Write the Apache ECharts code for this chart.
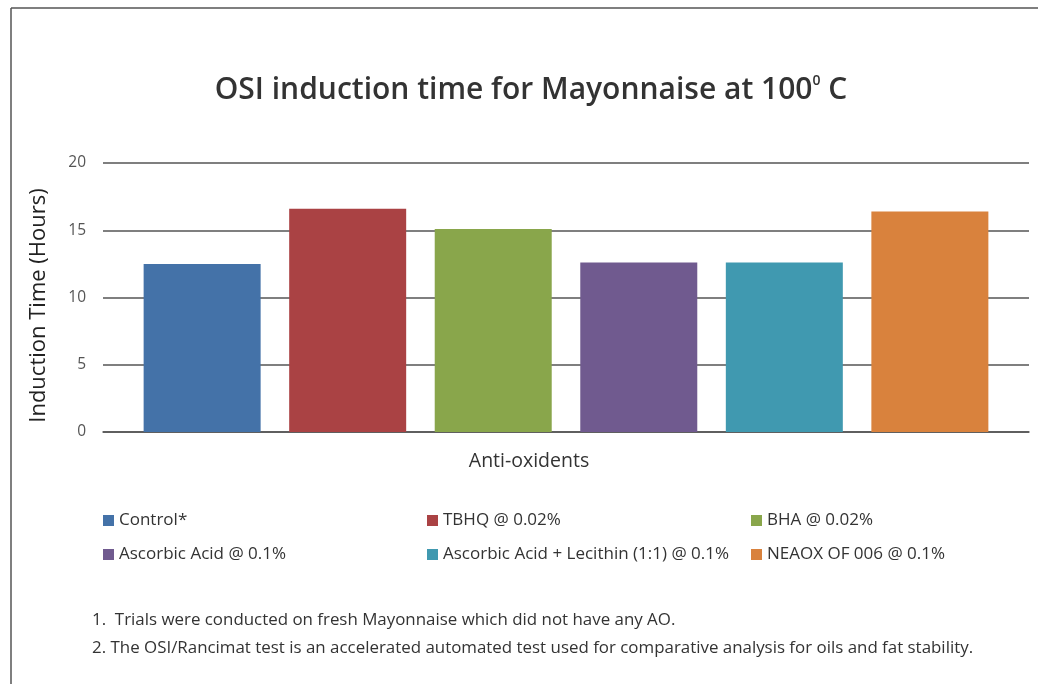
<!DOCTYPE html>
<html>
<head>
<meta charset="utf-8">
<script src="https://cdn.jsdelivr.net/npm/echarts@6/dist/echarts.min.js"></script>
<style>
  html, body { margin: 0; padding: 0; background: #fff; }
  #chart { width: 1038px; height: 684px; }
</style>
</head>
<body>
<div id="chart"></div>
<script>
// 数据
const categories = ['Anti-oxidents'];
const seriesNames = ['Control*', 'TBHQ @ 0.02%', 'BHA @ 0.02%', 'Ascorbic Acid @ 0.1%', 'Ascorbic Acid + Lecithin (1:1) @ 0.1%', 'NEAOX OF 006 @ 0.1%'];
const seriesValues = [12.5, 16.6, 15.1, 12.6, 12.6, 16.4];
const yTicks = [0, 5, 10, 15, 20];
const colors = ['#4472a8', '#aa4244', '#89a64b', '#705a8f', '#4099b0', '#d9823d'];
const notes = [
  '1.  Trials were conducted on fresh Mayonnaise which did not have any AO.',
  '2. The OSI/Rancimat test is an accelerated automated test used for comparative analysis for oils and fat stability.'
];

const font = 'Open Sans';
const myChart = echarts.init(document.getElementById('chart'));

const series = seriesNames.map((name, i) => ({
  name: name,
  type: 'bar',
  data: [seriesValues[i]],
  barWidth: 117,
  barGap: '24.4%',
  itemStyle: { color: colors[i] },
  silent: true,
}));

// 图例分三列
const legendCol = (names, left) => ({
  orient: 'vertical',
  left: left,
  top: 507,
  itemWidth: 11,
  itemHeight: 11,
  itemGap: 17,
  icon: 'rect',
  data: names,
  textStyle: { fontFamily: font, fontSize: 17, color: '#333' },
});

const option = {
  animation: false,
  color: colors,
  title: {
    text: 'OSI induction time for Mayonnaise at 100{sup|0} C',
    left: 526,
    textAlign: 'center',
    top: 69,
    textStyle: {
      fontFamily: font,
      fontSize: 30,
      fontWeight: 600,
      color: '#333',
      rich: {
        sup: { fontFamily: font, fontSize: 14, fontWeight: 600, color: '#333', verticalAlign: 'top', padding: [0, 0, 18, 0] },
      },
    },
  },
  grid: { left: 103, right: 9, top: 163, bottom: 252 },
  xAxis: {
    type: 'category',
    data: categories,
    axisTick: { show: false },
    axisLine: { lineStyle: { color: '#555', width: 1.5 } },
    axisLabel: { fontFamily: font, fontSize: 19.5, color: '#333', margin: 19, padding: [0, 74, 0, 0] },
  },
  yAxis: {
    type: 'value',
    min: yTicks[0],
    max: yTicks[yTicks.length - 1],
    interval: 5,
    name: 'Induction Time (Hours)',
    nameLocation: 'middle',
    nameGap: 53,
    nameTextStyle: { fontFamily: font, fontSize: 22, color: '#222', padding: [0, 16, 0, 0] },
    axisLabel: { fontFamily: font, fontSize: 15.5, color: '#555', margin: 17 },
    splitLine: { lineStyle: { color: '#555', width: 1.5 } },
  },
  legend: [
    legendCol([seriesNames[0], seriesNames[3]], 98),
    legendCol([seriesNames[1], seriesNames[4]], 422),
    legendCol([seriesNames[2], seriesNames[5]], 746),
  ],
  graphic: [
    { type: 'line', shape: { x1: 11, y1: 8, x2: 1038, y2: 8 }, style: { stroke: '#555', lineWidth: 1.5 } },
    { type: 'line', shape: { x1: 11, y1: 8, x2: 11, y2: 684 }, style: { stroke: '#555', lineWidth: 1.5 } },
    { type: 'text', left: 92, top: 612, style: { text: notes[0], fontFamily: font, fontSize: 16.9, fill: '#333' } },
    { type: 'text', left: 92, top: 640, style: { text: notes[1], fontFamily: font, fontSize: 16.9, fill: '#333' } },
  ],
  series: series,
};

myChart.setOption(option);
window.addEventListener('resize', () => { myChart.resize(); });
</script>
</body>
</html>
